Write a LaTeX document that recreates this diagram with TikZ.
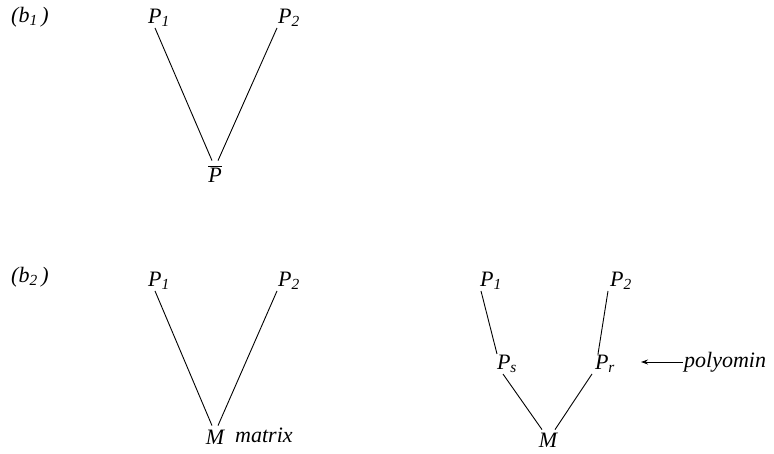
\documentclass[tikz,border=0pt]{standalone}
\usepackage{fontspec}
\usetikzlibrary{arrows.meta}
\setmainfont{Liberation Serif}
\begin{document}
\begin{tikzpicture}[x=1pt,y=-1pt,
  lbl/.style={font=\fontsize{22}{26}\selectfont\itshape, inner sep=1pt},
  edge/.style={line width=0.9pt}]
\useasboundingbox (0,0) rectangle (774,453);
% (b1)
\node[lbl, anchor=west] (b1) at (10,17) {(b\textsubscript{1}\,)};
\node[lbl] (a1) at (159,18) {P\textsubscript{1}};
\node[lbl] (a2) at (289,18) {P\textsubscript{2}};
\node[lbl, inner ysep=5pt] (ab) at (215,174) {\ensuremath{\overline{\hbox{\itshape P}}}};
\draw[edge] ([xshift=-4]a1.south) -- ([xshift=-3]ab.north);
\draw[edge] ([xshift=-12]a2.south) -- ([xshift=3]ab.north);
% (b2)
\node[lbl, anchor=west] (b2) at (10,277) {(b\textsubscript{2}\,)};
\node[lbl] (c1) at (159,281) {P\textsubscript{1}};
\node[lbl] (c2) at (289,281) {P\textsubscript{2}};
\node[lbl, inner ysep=4pt] (cm) at (215,437) {M};
\node[lbl, anchor=west] (mx) at (234,435) {matrix};
\draw[edge] ([xshift=-4]c1.south) -- ([xshift=-3]cm.north);
\draw[edge] ([xshift=-12]c2.south) -- ([xshift=3]cm.north);
% right tree
\node[lbl] (d1) at (491,281) {P\textsubscript{1}};
\node[lbl] (d2) at (621,281) {P\textsubscript{2}};
\node[lbl] (ds) at (507,364) {P\textsubscript{s}};
\node[lbl] (dr) at (605,364) {P\textsubscript{r}};
\node[lbl, inner ysep=3pt] (dm) at (548,440) {M};
\node[lbl, anchor=west] (poly) at (683,362) {polyomin};
\draw[edge] ([xshift=-10]d1.south) -- ([xshift=-10]ds.north);
\draw[edge] ([xshift=-13]d2.south) -- ([xshift=-7]dr.north);
\draw[edge] ([xshift=-4]ds.south) -- ([xshift=-6]dm.north);
\draw[edge] ([xshift=-13]dr.south) -- ([xshift=7]dm.north);
\draw[edge,-{Stealth[length=7pt,width=5pt]}] (poly.west) -- (641,362);
\end{tikzpicture}
\end{document}
